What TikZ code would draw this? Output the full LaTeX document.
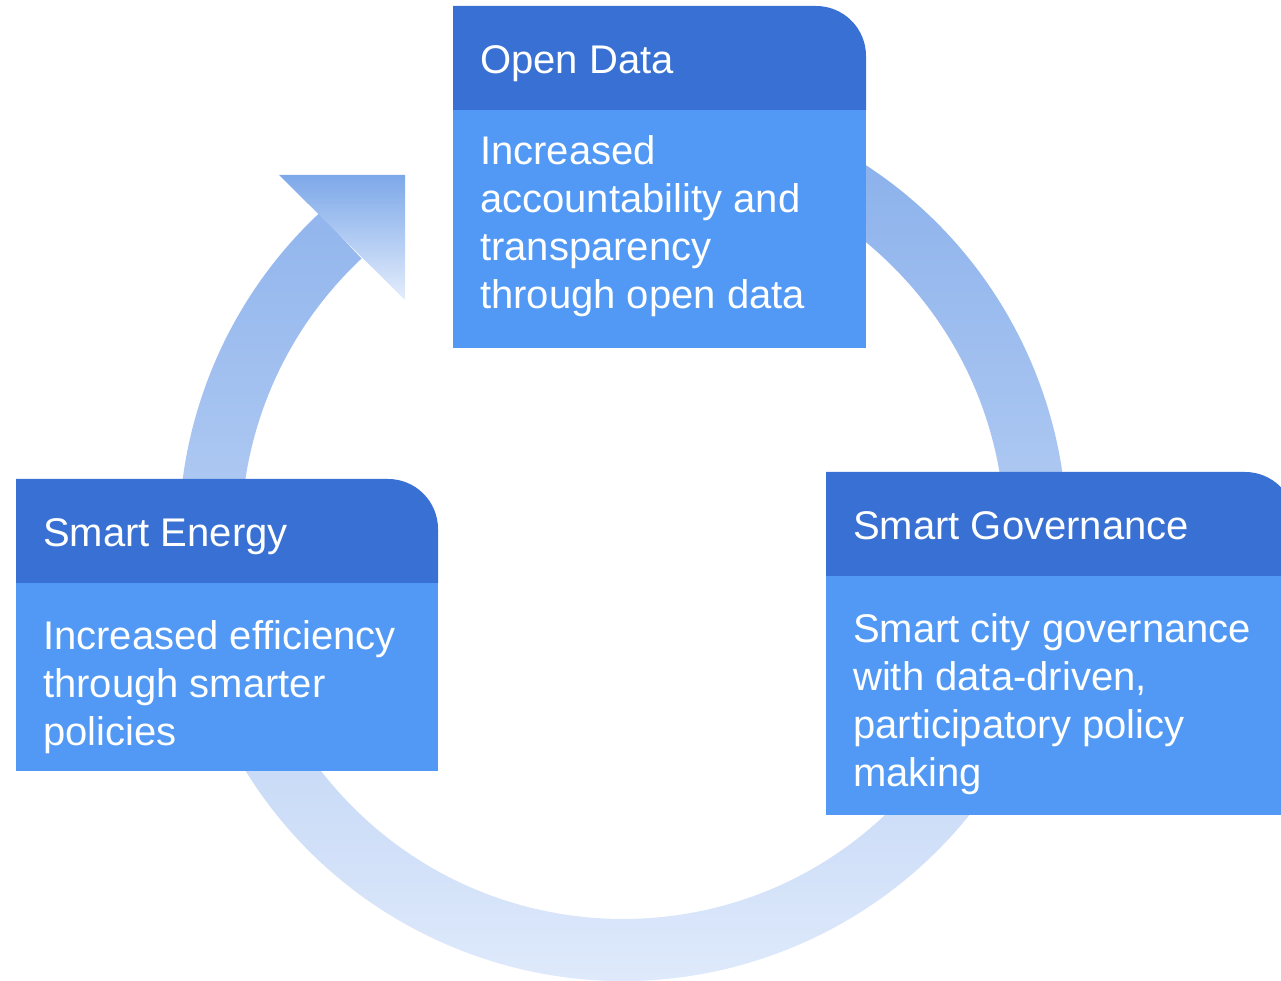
\documentclass[tikz,border=0pt]{standalone}
\usepackage{fontspec}
\setmainfont{Liberation Sans}
\usepackage{tikz}
\definecolor{headblue}{RGB}{56,112,212}
\definecolor{bodyblue}{RGB}{81,153,245}
\definecolor{ringtop}{RGB}{136,175,235}
\definecolor{ringbottom}{RGB}{228,237,252}
\definecolor{tiptop}{RGB}{125,168,233}
\definecolor{tipbottom}{RGB}{228,237,252}
\tikzset{
  titletext/.style={anchor=base west, inner sep=0pt, text=white, font=\fontsize{40}{48}\selectfont},
  bodytext/.style={anchor=north west, inner sep=0pt, text=white, align=left, font=\fontsize{40}{48}\selectfont},
}
% #1 name, #2 left, #3 top, #4 width, #5 bottom, #6 first baseline, #7 title, #8 body
\newcommand{\cyclebox}[8]{
  \fill[headblue] (#2,#3-104) -- (#2,#3) -- (#2+#4-50,#3) arc[start angle=90, end angle=0, radius=50] -- (#2+#4,#3-104) -- cycle;
  \fill[bodyblue] (#2,#3-104) rectangle (#2+#4,#5);
  \node[titletext] (#1-title) at (#2+27,#3-68) {#7};
  \node[bodytext] (#1-body) at (#2+27,#6+29) {#8};
}

\begin{document}
\begin{tikzpicture}[x=1pt,y=1pt]
\useasboundingbox (0,0) rectangle (1281,981);
% ring and its tip
\shade[top color=ringtop, bottom color=ringbottom] ([shift={(70:444)}]623,444) arc[start angle=70, end angle=-226.8, radius=444] -- ([shift={(-226.8:382)}]623,444) arc[start angle=-226.8, end angle=70, radius=382] -- cycle;
\shade[top color=tiptop, bottom color=tipbottom] (279,806) -- (405,806) -- (405,681) -- cycle;
% the three boxes
\cyclebox{od}{453}{975}{413}{633}{817}{Open Data}{Increased\\accountability and\\transparency\\through open data}
\cyclebox{se}{16}{502}{422}{210}{332}{Smart Energy}{Increased efficiency\\through smarter\\policies}
\cyclebox{sg}{826}{509}{469}{166}{339}{Smart Governance}{Smart city governance\\with data-driven,\\participatory policy\\making}
\end{tikzpicture}
\end{document}
